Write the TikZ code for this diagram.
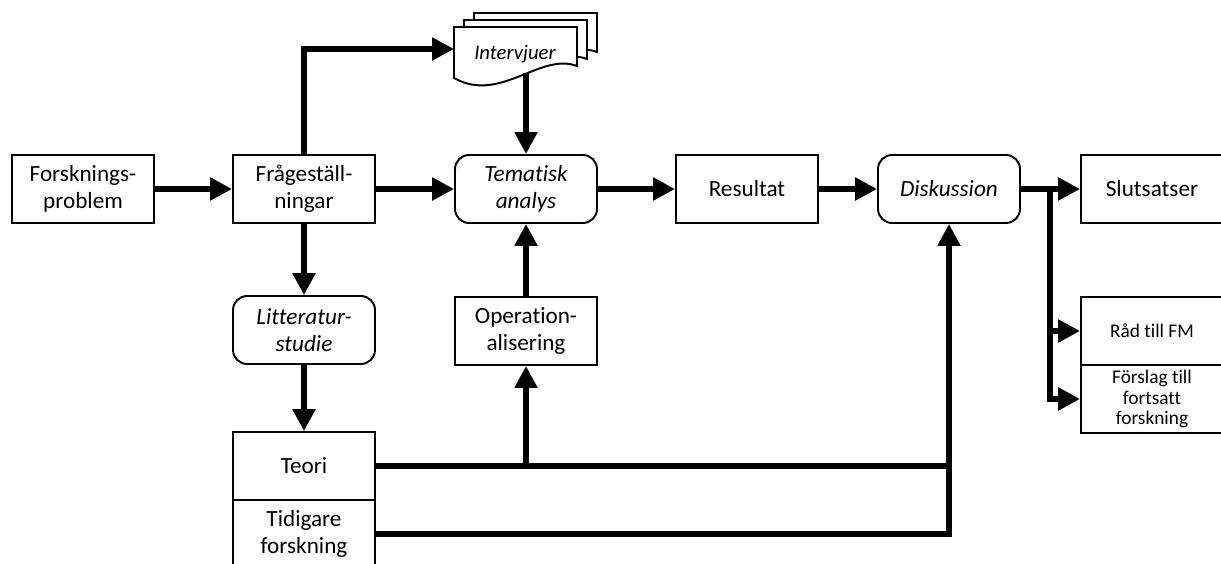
\documentclass[tikz,border=0pt]{standalone}
\usepackage{fontspec}
\setmainfont{Carlito}[Ligatures=NoCommon]
\usetikzlibrary{arrows.meta}

\begin{document}
\begin{tikzpicture}[x=0.02cm,y=-0.02cm,
  box/.style={draw, line width=1.1pt, minimum width=2.84cm, minimum height=1.36cm, align=center, inner sep=2pt, font=\fontsize{13.2}{15.3}\selectfont},
  rbox/.style={box, rounded corners=8pt, font=\fontsize{13.2}{15.3}\selectfont\itshape},
  sbox/.style={box, font=\fontsize{11}{11.7}\selectfont},
  doc/.style={draw, line width=1.1pt, fill=white},
  flow/.style={line width=3.4pt, ->, >={Triangle[length=12.5pt,width=12.5pt]}},
  line/.style={line width=3.4pt}]
\useasboundingbox (0,0) rectangle (1221,564);
\clip (0,0) rectangle (1221,564);

\node[box] (forsk) at (83,189) {Forsknings-\\problem};
\node[box] (fraga) at (304,189) {Frågeställ-\\ningar};
\node[rbox] (tema) at (526,189) {Tematisk\\analys};
\node[box] (result) at (747,189) {Resultat};
\node[rbox] (disk) at (949,189) {Diskussion};
\node[box] (slut) at (1152,189) {Slutsatser};
\node[rbox] (lit) at (304,330) {Litteratur-\\studie};
\node[box] (oper) at (526,331) {Operation-\\alisering};
\node[sbox] (rad) at (1152,331) {Råd till FM};
\node[sbox] (forslag) at (1152,399) {Förslag till\\fortsatt\\forskning};
\node[box] (teori) at (304,466) {Teori};
\node[box] (tidig) at (304,534) {Tidigare\\forskning};

% intervjuer (stack of documents)
\foreach \k in {2,1,0}
  \draw[doc, shift={(\k*10,-\k*7)}] (454,27) -- (577,27) -- (577,66) .. controls (540,52) and (500,104) .. (454,78) -- cycle;
\node[font=\fontsize{11.8}{13}\selectfont\itshape] (intv) at (515,54) {Intervjuer};

\coordinate (intvin) at (454,49);
\coordinate (intvout) at (526,73);
\coordinate (split) at (1050,189);

\draw[flow] (forsk.east) -- (fraga.west);
\draw[flow] (fraga.east) -- (tema.west);
\draw[flow] (fraga.north) |- (intvin);
\draw[flow] (intvout) -- (tema.north);
\draw[flow] (tema.east) -- (result.west);
\draw[flow] (result.east) -- (disk.west);
\draw[flow] (disk.east) -- (slut.west);
\draw[flow] (split) |- (rad.west);
\draw[flow] (split) |- (forslag.west);
\draw[flow] (fraga.south) -- (lit.north);
\draw[flow] (lit.south) -- (teori.north);
\draw[flow] (oper.north) -- (tema.south);
\draw[flow] (teori.east) -| (disk.south);
\draw[flow] (oper.south |- teori.east) -- (oper.south);
\draw[line] (tidig.east) -| (disk.south |- teori.east);

\end{tikzpicture}
\end{document}
